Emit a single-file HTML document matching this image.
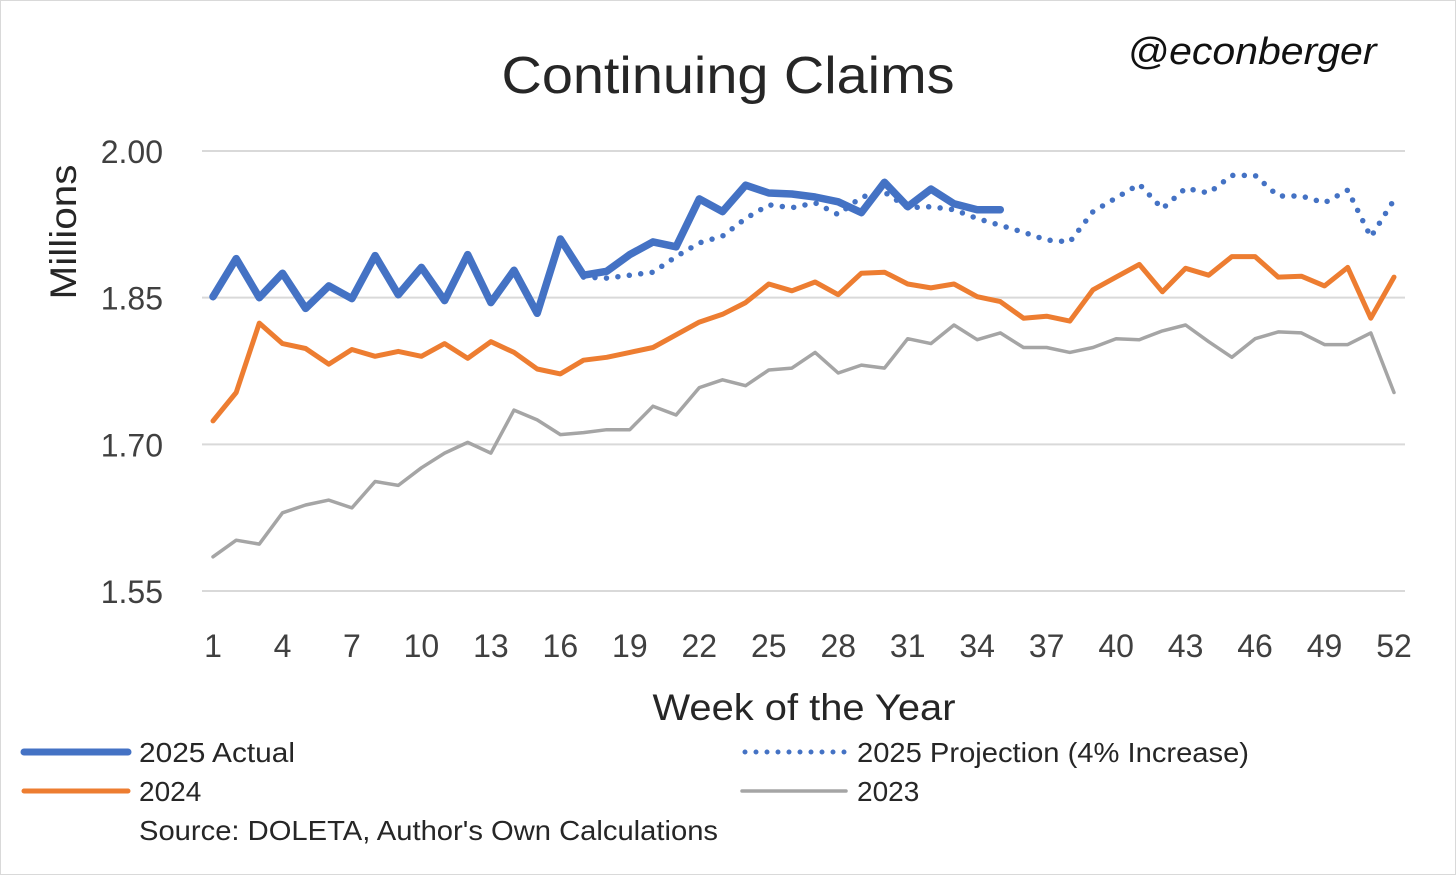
<!DOCTYPE html>
<html><head><meta charset="utf-8"><style>
html,body{margin:0;padding:0;background:#fff;}
svg{display:block;font-family:"Liberation Sans",sans-serif;}
</style></head><body>
<svg id="chart" width="1456" height="875" viewBox="0 0 1456 875">
<rect x="0.5" y="0.5" width="1455" height="874" fill="#fff" stroke="#d9d9d9"/>
<text x="728" y="93" font-size="52" text-anchor="middle" textLength="453" lengthAdjust="spacingAndGlyphs" fill="#262626">Continuing Claims</text>
<text x="1252" y="64" font-size="38" font-style="italic" text-anchor="middle" textLength="249" lengthAdjust="spacingAndGlyphs" fill="#111">@econberger</text>
<text transform="translate(76,232) rotate(-90)" font-size="37" text-anchor="middle" textLength="135" lengthAdjust="spacingAndGlyphs" fill="#262626">Millions</text>
<text x="804" y="720" font-size="37" text-anchor="middle" textLength="303" lengthAdjust="spacingAndGlyphs" fill="#262626">Week of the Year</text>
<g id="grid"></g><g id="yticks"></g><g id="xticks"></g><g id="series"></g>
<g>
<line x1="24" y1="752" x2="128" y2="752" stroke="#4472c4" stroke-width="7" stroke-linecap="round"/>
<text x="139" y="762" font-size="28" textLength="156" lengthAdjust="spacingAndGlyphs" fill="#262626">2025 Actual</text>
<line x1="745" y1="752" x2="845" y2="752" stroke="#4472c4" stroke-width="5" stroke-linecap="round" stroke-dasharray="0 11"/>
<text x="857" y="762" font-size="28" textLength="392" lengthAdjust="spacingAndGlyphs" fill="#262626">2025 Projection (4% Increase)</text>
<line x1="24" y1="791" x2="128" y2="791" stroke="#ed7d31" stroke-width="5" stroke-linecap="round"/>
<text x="139" y="801" font-size="28" fill="#262626">2024</text>
<line x1="742" y1="791" x2="846" y2="791" stroke="#a5a5a5" stroke-width="3.5" stroke-linecap="round"/>
<text x="857" y="801" font-size="28" fill="#262626">2023</text>
<text x="139" y="840" font-size="28" textLength="579" lengthAdjust="spacingAndGlyphs" fill="#262626">Source: DOLETA, Author's Own Calculations</text>
</g>
</svg>
<script>
const yTicks=[1.55,1.70,1.85,2.00];
const yTickLabels=["1.55","1.70","1.85","2.00"];
const xTickWeeks=[1,4,7,10,13,16,19,22,25,28,31,34,37,40,43,46,49,52];
const actual2025=[1.851,1.890,1.850,1.875,1.839,1.862,1.849,1.893,1.853,1.881,1.847,1.894,1.845,1.878,1.834,1.910,1.873,1.877,1.894,1.907,1.902,1.951,1.938,1.965,1.957,1.956,1.953,1.948,1.937,1.968,1.943,1.961,1.946,1.940,1.940];
const projStartWeek=17;
const projection2025=[1.871,1.870,1.873,1.876,1.892,1.906,1.913,1.931,1.945,1.942,1.947,1.935,1.953,1.958,1.942,1.943,1.940,1.931,1.924,1.917,1.909,1.907,1.938,1.952,1.966,1.941,1.962,1.957,1.975,1.975,1.954,1.954,1.947,1.960,1.912,1.950];
const claims2024=[1.724,1.753,1.824,1.803,1.798,1.782,1.797,1.790,1.795,1.790,1.803,1.788,1.805,1.794,1.777,1.772,1.786,1.789,1.794,1.799,1.812,1.825,1.833,1.845,1.864,1.857,1.866,1.853,1.875,1.876,1.864,1.860,1.864,1.851,1.846,1.829,1.831,1.826,1.858,1.871,1.884,1.856,1.880,1.873,1.892,1.892,1.871,1.872,1.862,1.881,1.829,1.871];
const claims2023=[1.585,1.602,1.598,1.630,1.638,1.643,1.635,1.662,1.658,1.676,1.691,1.702,1.691,1.735,1.725,1.710,1.712,1.715,1.715,1.739,1.730,1.758,1.766,1.760,1.776,1.778,1.794,1.773,1.781,1.778,1.808,1.803,1.822,1.807,1.814,1.799,1.799,1.794,1.799,1.808,1.807,1.816,1.822,1.805,1.789,1.808,1.815,1.814,1.802,1.802,1.814,1.753];

const NS="http://www.w3.org/2000/svg";
const X0=213,X1=1394,Y0=591,Y1=151;
function xs(w){return X0+(w-1)*(X1-X0)/51;}
function ys(v){return Y0-(v-1.55)*(Y0-Y1)/0.45;}
function mk(t,a,p){const e=document.createElementNS(NS,t);for(const k in a)e.setAttribute(k,a[k]);p.appendChild(e);return e;}
const grid=document.getElementById('grid'),yt=document.getElementById('yticks'),xt=document.getElementById('xticks'),ser=document.getElementById('series');
yTicks.forEach((v,i)=>{
  const l=mk('line',{x1:202,x2:1405,y1:ys(v),y2:ys(v),stroke:'#d9d9d9','stroke-width':2},grid);
  
  
  const t=mk('text',{x:163,y:ys(v)+12,'font-size':32,'text-anchor':'end',fill:'#404040'},yt);
  t.textContent=yTickLabels[i];
  
  
});
xTickWeeks.forEach(w=>{
  const t=mk('text',{x:xs(w),y:657,'font-size':32,'text-anchor':'middle',fill:'#404040'},xt);
  t.textContent=String(w);
  
  
});
function path(arr,start){return arr.map((v,i)=>(i?'L':'M')+xs(start+i).toFixed(1)+' '+ys(v).toFixed(1)).join(' ');}
const p23=mk('path',{d:path(claims2023,1),fill:'none',stroke:'#a5a5a5','stroke-width':3.5,'stroke-linejoin':'round','stroke-linecap':'round'},ser);


const p24=mk('path',{d:path(claims2024,1),fill:'none',stroke:'#ed7d31','stroke-width':5,'stroke-linejoin':'round','stroke-linecap':'round'},ser);


const pp=mk('path',{d:path(projection2025,projStartWeek),fill:'none',stroke:'#4472c4','stroke-width':5.5,'stroke-linecap':'round','stroke-dasharray':'0 11.5'},ser);


const pa=mk('path',{d:path(actual2025,1),fill:'none',stroke:'#4472c4','stroke-width':7.5,'stroke-linejoin':'round','stroke-linecap':'round'},ser);


</script>
</body></html>
